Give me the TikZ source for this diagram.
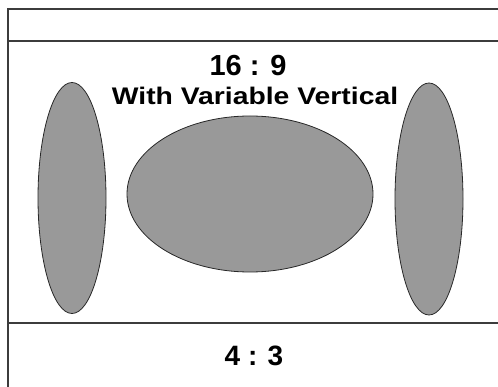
\documentclass[tikz,border=0pt]{standalone}
\usepackage{fontspec}
\setmainfont{Liberation Sans}
\usepackage{xcolor}

\begin{document}
\begin{tikzpicture}[x=1pt,y=1pt,yscale=-1,xscale=1]
                    \useasboundingbox (0,0) rectangle (498,387);
                    \tikzset{frameline/.style={color={rgb, 255:red, 60; green, 60; blue, 60}, line width=1.6},
                             blob/.style={draw={rgb, 255:red, 40; green, 40; blue, 40}, line width=0.8, fill={rgb, 255:red, 153; green, 153; blue, 153}}}
                    %Straight Lines [frame]
                    \coordinate (tl) at (8,9);
                    \coordinate (tr) at (498,9);
                    \coordinate (bl) at (8,387);
                    \draw [frameline] (bl) -- (tl) -- (tr) ;
                    %Straight Lines [upper band]
                    \coordinate (ul) at (8,41);
                    \coordinate (ur) at (498,41);
                    \draw [frameline] (ul) -- (ur) ;
                    %Straight Lines [lower band]
                    \coordinate (ll) at (8,323);
                    \coordinate (lr) at (498,323);
                    \draw [frameline] (ll) -- (lr) ;

                    %Ellipse [left]
                    \draw [blob] (72,198) ellipse (34 and 115.5) ;
                    %Ellipse [middle]
                    \draw [blob] (250,194) ellipse (123 and 78) ;
                    %Ellipse [right]
                    \draw [blob] (429,199) ellipse (34 and 116) ;

                    % Text Node
                    \node (wide) at (248,66) [inner sep=0pt] {\fontsize{29}{32}\selectfont\bfseries 16 : 9};
                    % Text Node
                    \node (vert) at (255,96) [inner sep=0pt] {\scalebox{1.18}[1]{\fontsize{24}{28}\selectfont\bfseries With Variable Vertical}};
                    % Text Node
                    \node (std) at (254,356) [inner sep=0pt] {\fontsize{28}{32}\selectfont\bfseries 4 : 3};
                \end{tikzpicture}
\end{document}
